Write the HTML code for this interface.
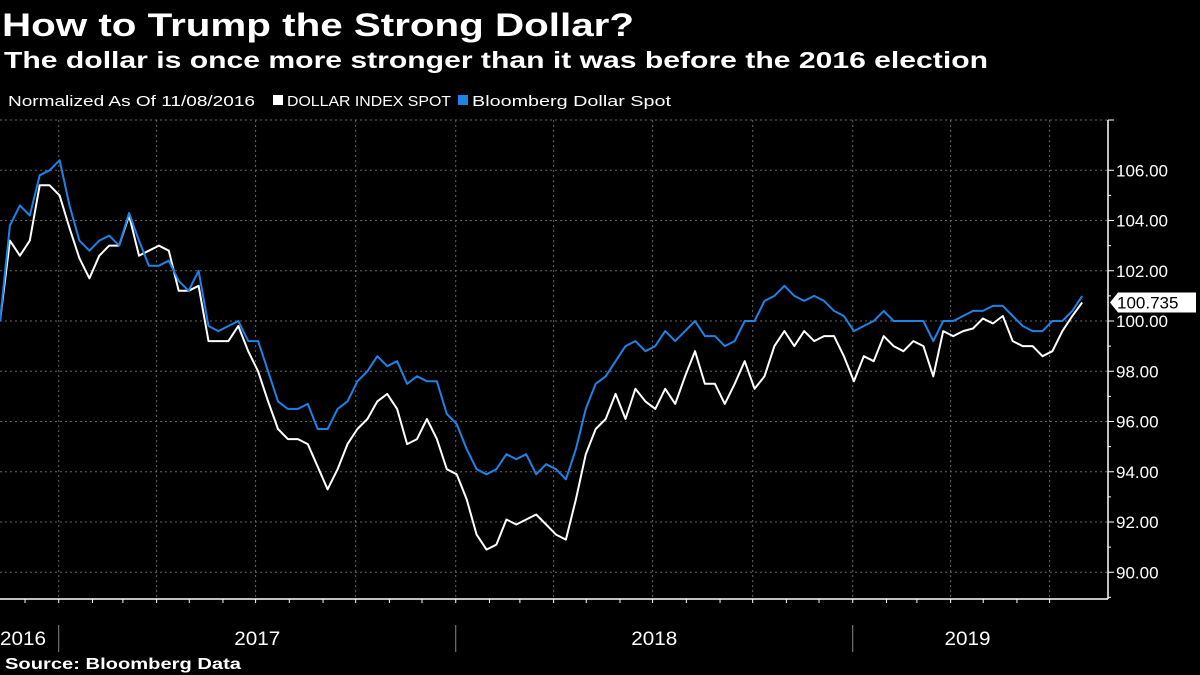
<!DOCTYPE html>
<html><head><meta charset="utf-8"><style>
html,body{margin:0;padding:0;background:#000;width:1200px;height:675px;overflow:hidden}
svg{display:block}
</style></head><body>
<svg id="chart" width="1200" height="675" viewBox="0 0 1200 675" xmlns="http://www.w3.org/2000/svg">
<rect width="1200" height="675" fill="#000"/>
<text x="2" y="36" fill="#fff" font-family="Liberation Sans, sans-serif" font-weight="bold" font-size="32" textLength="632" lengthAdjust="spacingAndGlyphs">How to Trump the Strong Dollar?</text>
<text x="4" y="68" fill="#fff" font-family="Liberation Sans, sans-serif" font-weight="bold" font-size="23" textLength="984" lengthAdjust="spacingAndGlyphs">The dollar is once more stronger than it was before the 2016 election</text>
<g font-family="Liberation Sans, sans-serif" font-size="15" fill="#fff">
<text x="8" y="106" textLength="247" lengthAdjust="spacingAndGlyphs">Normalized As Of 11/08/2016</text>
<rect x="273" y="95" width="10" height="10" fill="#fff"/>
<text x="287" y="106" textLength="164" lengthAdjust="spacingAndGlyphs">DOLLAR INDEX SPOT</text>
<rect x="458" y="95" width="10" height="10" fill="#1e82e6"/>
<text x="472" y="106" textLength="199" lengthAdjust="spacingAndGlyphs">Bloomberg Dollar Spot</text>
</g>
<g id="grid"></g>
<g id="axes"></g>
<g id="series"></g>
<text x="5" y="669" fill="#fff" font-family="Liberation Sans, sans-serif" font-weight="bold" font-size="16" textLength="236" lengthAdjust="spacingAndGlyphs">Source: Bloomberg Data</text>
</svg>
<script>
var yTicks = [90, 92, 94, 96, 98, 100, 102, 104, 106];
var yearLabels = ["2016", "2017", "2018", "2019"];
var startDate = "2016-11-08";
var endDate = "2019-07-31";
var dxyValues = [100.0,103.2,102.6,103.2,105.4,105.4,105.0,103.7,102.5,101.7,
102.6,103.0,103.0,104.2,102.6,102.8,103.0,102.8,101.2,101.2,
101.4,99.2,99.2,99.2,99.8,98.8,98.0,96.8,95.7,95.3,
95.3,95.1,94.2,93.3,94.1,95.1,95.7,96.1,96.8,97.1,
96.5,95.1,95.3,96.1,95.3,94.1,93.9,92.9,91.5,90.9,
91.1,92.1,91.9,92.1,92.3,91.9,91.5,91.3,92.9,94.7,
95.7,96.1,97.1,96.1,97.3,96.8,96.5,97.3,96.7,97.8,
98.8,97.5,97.5,96.7,97.5,98.4,97.3,97.8,99.0,99.6,
99.0,99.6,99.2,99.4,99.4,98.6,97.6,98.6,98.4,99.4,
99.0,98.8,99.2,99.0,97.8,99.6,99.4,99.6,99.7,100.1,
99.9,100.2,99.2,99.0,99.0,98.6,98.8,99.6,100.2,100.735];
var bbdxyValues = [100.0,103.8,104.6,104.2,105.8,106.0,106.4,104.6,103.2,102.8,
103.2,103.4,103.0,104.3,103.2,102.2,102.2,102.4,101.6,101.2,
102.0,99.8,99.6,99.8,100.0,99.2,99.2,98.0,96.8,96.5,
96.5,96.7,95.7,95.7,96.5,96.8,97.6,98.0,98.6,98.2,
98.4,97.5,97.8,97.6,97.6,96.3,95.9,94.9,94.1,93.9,
94.1,94.7,94.5,94.7,93.9,94.3,94.1,93.7,94.9,96.5,
97.5,97.8,98.4,99.0,99.2,98.8,99.0,99.6,99.2,99.6,
100.0,99.4,99.4,99.0,99.2,100.0,100.0,100.8,101.0,101.4,
101.0,100.8,101.0,100.8,100.4,100.2,99.6,99.8,100.0,100.4,
100.0,100.0,100.0,100.0,99.2,100.0,100.0,100.2,100.4,100.4,
100.6,100.6,100.2,99.8,99.6,99.6,100.0,100.0,100.4,101.0];

var NS = "http://www.w3.org/2000/svg";
var DAY = 86400000;
var t0 = Date.parse(startDate), t1 = Date.parse(endDate);
var pxPerDay = (455 - 58) / 365;
function xOfTime(t){ return (t - t0) / DAY * pxPerDay; }
function xOfIndex(i, n){ return xOfTime(t0 + (t1 - t0) * i / (n - 1)); }
function yOf(v){ return 321 - (v - 100) * 25.125; }
function mk(tag, attrs, parent){ var e = document.createElementNS(NS, tag); for (var k in attrs) e.setAttribute(k, attrs[k]); parent.appendChild(e); return e; }
var grid = document.getElementById("grid"), axes = document.getElementById("axes"), series = document.getElementById("series");
var AX = 1108, TOP = 120, BOT = 599;

yTicks.concat([108]).forEach(function(v){
  var y = yOf(v);
  var l = mk("line", {x1:0, x2:AX, y1:y, y2:y, stroke:"#666", "stroke-width":1, "stroke-dasharray":"2,3"}, grid);
  
  
  var tk = mk("line", {x1:AX, x2:AX+6, y1:y, y2:y, stroke:"#fff", "stroke-width":1}, axes);
  
  
  if (v !== 108) {
    var t = mk("text", {x:1116, y:y+6, fill:"#fff", "font-family":"Liberation Sans, sans-serif", "font-size":"17"}, axes);
    t.textContent = v.toFixed(2);
    
    
  }
});
for (var mv = 89; mv <= 105; mv += 2) {
  var my = yOf(mv);
  var mt = mk("line", {x1:AX, x2:AX+3, y1:my, y2:my, stroke:"#fff", "stroke-width":1}, axes);
  
  
}
for (var yr = 2016; yr <= 2019; yr++) {
  for (var m = 0; m < 12; m++) {
    var t = Date.UTC(yr, m, 1);
    if (t < t0 || t > t1) continue;
    var x = xOfTime(t);
    if (m % 3 === 0) {
      var g = mk("line", {x1:x, x2:x, y1:TOP, y2:BOT, stroke:"#666", "stroke-width":1, "stroke-dasharray":"2,3"}, grid);
      
      
    }
    var mt2 = mk("line", {x1:x, x2:x, y1:BOT, y2:BOT+4, stroke:"#fff", "stroke-width":1}, axes);
    
    
    if (m === 0) {
      var sep = mk("line", {x1:x, x2:x, y1:625, y2:652, stroke:"#888", "stroke-width":1}, axes);
      
      
    }
  }
}
yearLabels.forEach(function(lbl){
  var yr = +lbl;
  var a = Math.max(t0, Date.UTC(yr,0,1)), b = Math.min(t1, Date.UTC(yr+1,0,1));
  var cx = (xOfTime(a) + xOfTime(b)) / 2;
  var tx = yr === 2016 ? 0 : cx - 23;
  var t = mk("text", {x:tx, y:645, fill:"#fff", "font-family":"Liberation Sans, sans-serif", "font-size":"19", textLength:"46", lengthAdjust:"spacingAndGlyphs"}, axes);
  t.textContent = lbl;
  
  
});
var xa = mk("line", {x1:0, x2:AX, y1:BOT, y2:BOT, stroke:"#fff", "stroke-width":1.5}, axes);


var ya = mk("line", {x1:AX, x2:AX, y1:TOP, y2:BOT, stroke:"#fff", "stroke-width":1.5}, axes);



function drawLine(vals, color, name){
  var d = vals.map(function(v,i){ return (i?"L":"M") + xOfIndex(i, vals.length).toFixed(1) + "," + yOf(v).toFixed(1); }).join("");
  var p = mk("path", {d:d, fill:"none", stroke:color, "stroke-width":2, "stroke-linejoin":"round"}, series);
  
  
}
drawLine(dxyValues, "#ffffff", "dxy-line");
drawLine(bbdxyValues, "#1e82e6", "bbdxy-line");

var lv = dxyValues[dxyValues.length - 1], ly = yOf(lv);
var tag = mk("path", {d:"M"+(AX+2)+","+ly+" L"+(AX+10)+","+(ly-10)+" L1196,"+(ly-10)+" L1196,"+(ly+10)+" L"+(AX+10)+","+(ly+10)+"Z", fill:"#fff"}, axes);


var tt = mk("text", {x:1117, y:ly+6, fill:"#000", "font-family":"Liberation Sans, sans-serif", "font-size":"17"}, axes);
tt.textContent = lv.toFixed(3);


</script>
</body></html>
